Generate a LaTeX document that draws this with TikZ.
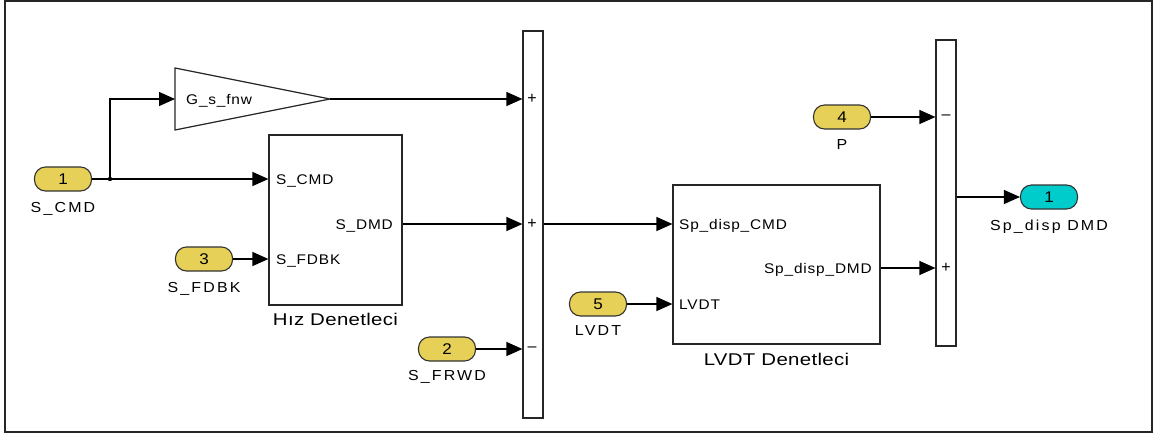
\documentclass[tikz,border=0pt]{standalone}
\usepackage{fontspec}
\usepackage{tikz}
\usetikzlibrary{arrows.meta,positioning,shapes.geometric}
\setmainfont{Liberation Sans}
\newfontfamily\portlabfont[FakeStretch=1.1,LetterSpace=15]{Liberation Sans}
\newfontfamily\innerlabfont[FakeStretch=1.1,LetterSpace=6]{Liberation Sans}
\newfontfamily\captionfont[FakeStretch=1.2,LetterSpace=2]{Liberation Sans}
\definecolor{portyellow}{RGB}{230,208,88}
\definecolor{portcyan}{RGB}{0,204,204}

\begin{document}
\begin{tikzpicture}[x=1pt,y=-1pt,
inport/.style={draw=black!80,line width=1.1pt,fill=portyellow,rounded corners=11pt,minimum width=57pt,minimum height=24pt,inner sep=0pt,font=\innerlabfont\fontsize{15.5}{17}\selectfont},
outport/.style={inport,fill=portcyan},
subsys/.style={draw=black!85,line width=1.2pt,inner sep=0pt},
sumbar/.style={draw=black!85,line width=1.2pt,minimum width=20pt,inner sep=0pt},
gainblock/.style={draw=black!85,line width=1.2pt,isosceles triangle,isosceles triangle stretches,minimum width=62pt,minimum height=155pt,inner sep=0pt,outer sep=0pt},
flow/.style={-{Triangle[length=16pt,width=14pt]},line width=1.3pt},
portlab/.style={font=\portlabfont\fontsize{14.5}{16}\selectfont,inner sep=0pt},
innerlab/.style={font=\innerlabfont\fontsize{14}{16}\selectfont,inner sep=0pt},
caption/.style={font=\captionfont\fontsize{17}{19}\selectfont,inner sep=0pt},
sign/.style={font=\fontsize{16}{18}\selectfont,inner sep=0pt}]
\useasboundingbox (0,0) rectangle (1153,434);
\draw[line width=1.5pt,black!85] (5,1) rectangle (1152,432);
% inports and outport
\node[inport] (in1) at (63,179) {1};
\node[inport] (in3) at (204,259) {3};
\node[inport] (in2) at (447,349) {2};
\node[inport] (in5) at (598,304) {5};
\node[inport] (in4) at (842,117) {4};
\node[outport] (out1) at (1049,197) {1};
\node[portlab,below=11pt of in1] {S\_CMD};
\node[portlab,below=11pt of in3] {S\_FDBK};
\node[portlab,below=9pt of in2] {S\_FRWD};
\node[portlab,below=9pt of in5] {LVDT};
\node[portlab,below=10pt of in4] {P};
\node[portlab,below=10pt of out1] {Sp\_disp DMD};
% gain, subsystems and sums
\node[gainblock,anchor=apex] (gain) at (330,99) {};
\node[innerlab,anchor=base west] (gainlab) at ([xshift=11pt,yshift=-5pt]gain.lower side) {G\_s\_fnw};
\node[subsys,minimum width=133pt,minimum height=170pt] (hiz) at (335.5,220) {};
\node[subsys,minimum width=207pt,minimum height=159pt] (lvdt) at (776.5,264.5) {};
\node[caption,below=7pt of hiz] {Hız Denetleci};
\node[caption,below=8pt of lvdt] {LVDT Denetleci};
\node[sumbar,minimum height=387pt] (sum1) at (533,224.5) {};
\node[sumbar,minimum height=306pt] (sum2) at (946,193) {};
% port labels
\node[innerlab,anchor=base west] (hcmd) at (276,184) {S\_CMD};
\node[innerlab,anchor=base west] (hfdbk) at (276,264) {S\_FDBK};
\node[innerlab,anchor=base east] (hdmd) at (393,229) {S\_DMD};
\node[innerlab,anchor=base west] (lcmd) at (679,229) {Sp\_disp\_CMD};
\node[innerlab,anchor=base west] (lpos) at (679,309) {LVDT};
\node[innerlab,anchor=base east] (ldmd) at (872,273) {Sp\_disp\_DMD};
\node[sign] at (532,99) {+};
\node[sign] at (532,224) {+};
\node[sign] at (532,349) {--};
\node[sign] at (946,117) {--};
\node[sign] at (946,268) {+};
% connectors
\coordinate (split) at (110,179);
\fill (split) circle (2.2pt);
\draw[line width=1.3pt] (in1.east)--(split);
\draw[flow] (split)--(hiz.west |- in1);
\draw[flow] (split)|-(gain.lower side);
\draw[flow] (gain.apex)--(sum1.west |- gain.apex);
\draw[flow] (in3.east)--(hiz.west |- in3);
\draw[flow] (hiz.east |- 0,224)--(sum1.west |- 0,224);
\draw[flow] (in2.east)--(sum1.west |- in2);
\draw[flow] (sum1.east |- 0,224)--(lvdt.west |- 0,224);
\draw[flow] (in5.east)--(lvdt.west |- in5);
\draw[flow] (lvdt.east |- 0,268)--(sum2.west |- 0,268);
\draw[flow] (in4.east)--(sum2.west |- in4);
\draw[flow] (sum2.east |- out1)--(out1.west);
\end{tikzpicture}
\end{document}
